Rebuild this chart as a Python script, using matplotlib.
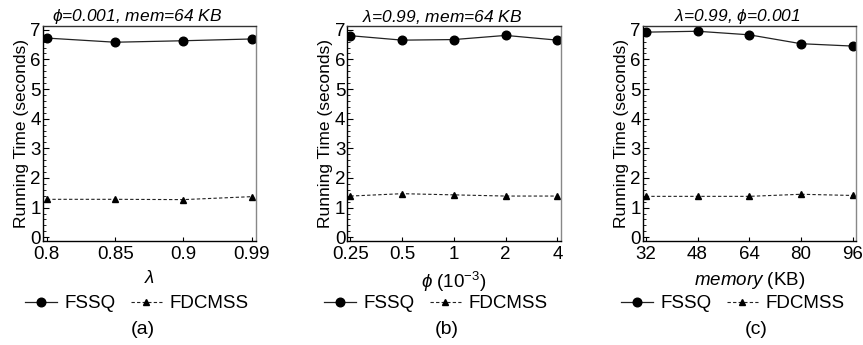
"""Running time of FSSQ vs FDCMSS over three parameter sweeps."""

import matplotlib
matplotlib.use("Agg")
import matplotlib.pyplot as plt
from matplotlib.ticker import MultipleLocator

plt.rcParams["font.family"] = ["Liberation Sans", "DejaVu Sans"]
plt.rcParams["mathtext.fontset"] = "custom"
plt.rcParams["mathtext.rm"] = "Liberation Sans"
plt.rcParams["mathtext.it"] = "Liberation Sans:italic"

# panel (a): varying lambda
lambda_labels = ["0.8", "0.85", "0.9", "0.99"]
fssq_lambda = [6.72, 6.58, 6.63, 6.69]
fdcmss_lambda = [1.28, 1.28, 1.27, 1.37]

# panel (b): varying phi (x 10^-3)
phi_labels = ["0.25", "0.5", "1", "2", "4"]
fssq_phi = [6.80, 6.65, 6.67, 6.81, 6.65]
fdcmss_phi = [1.39, 1.47, 1.43, 1.39, 1.39]

# panel (c): varying memory (KB)
mem_labels = ["32", "48", "64", "80", "96"]
fssq_mem = [6.92, 6.95, 6.83, 6.53, 6.45]
fdcmss_mem = [1.38, 1.38, 1.38, 1.45, 1.41]

panels = [
    (lambda_labels, fssq_lambda, fdcmss_lambda,
     "$\\phi$=0.001, mem=64 KB", r"$\it{\lambda}$", "(a)"),
    (phi_labels, fssq_phi, fdcmss_phi,
     "$\\lambda$=0.99, mem=64 KB", r"$\it{\phi\ (10^{-3})}$", "(b)"),
    (mem_labels, fssq_mem, fdcmss_mem,
     "$\\lambda$=0.99, $\\phi$=0.001", r"$\it{memory}$ (KB)", "(c)"),
]

axes_left = [0.0495, 0.4025, 0.7447]
axes_width = 0.247
axes_bottom = 0.302
axes_height = 0.622

# legend / panel-tag centres in figure pixels (they sit left of the axes centre)
legend_x = [137, 436, 733]
tag_x = [143, 447, 756]

fig = plt.figure(figsize=(8.63, 3.45), dpi=100)
W = 863.0

for i, (labels, fssq, fdcmss, title, xlabel, tag) in enumerate(panels):
    left = axes_left[i]
    ax = fig.add_axes([left, axes_bottom, axes_width, axes_height])
    xs = list(range(len(labels)))
    ax.plot(xs, fssq, color="#222222", lw=0.9, marker="o", ms=6.2,
            mfc="black", mec="black", label="FSSQ")
    ax.plot(xs, fdcmss, color="#222222", lw=0.8, ls=(0, (3, 2)), marker="^",
            ms=4.5, mfc="black", mec="black", label="FDCMSS")

    ax.set_xlim(-0.06, len(labels) - 1 + 0.06)
    ax.set_ylim(-0.12, 7.12)
    ax.set_xticks(xs)
    ax.set_xticklabels(labels)
    ax.yaxis.set_major_locator(MultipleLocator(1))
    ax.yaxis.set_minor_locator(MultipleLocator(0.2))
    ax.tick_params(axis="both", which="major", direction="in", length=4,
                   width=0.8, labelsize=13.5, pad=1.5)
    ax.tick_params(axis="y", which="minor", direction="in", length=2,
                   width=0.6)
    ax.tick_params(axis="x", which="major", length=3, pad=4)

    ax.spines["left"].set_color("black")
    ax.spines["bottom"].set_color("black")
    ax.spines["top"].set_color("#333333")
    ax.spines["right"].set_color("#888888")
    for sp in ax.spines.values():
        sp.set_linewidth(1.0)

    ax.set_title(title, fontsize=12.5, style="italic", pad=3, x=0.445)
    ax.set_xlabel(xlabel, fontsize=13.5, labelpad=4.5)
    ax.set_ylabel("Running Time (seconds)", fontsize=12.5, labelpad=1)

    handles, names = ax.get_legend_handles_labels()
    fig.legend(handles, names, loc="center",
               bbox_to_anchor=(legend_x[i] / W, 0.12), ncol=2, frameon=False,
               fontsize=13.5, handlelength=1.7, columnspacing=0.8,
               handletextpad=0.4, borderpad=0.1)
    fig.text(tag_x[i] / W, 0.045, tag, ha="center", va="center", fontsize=14)

fig.savefig("out.png", dpi=100)
